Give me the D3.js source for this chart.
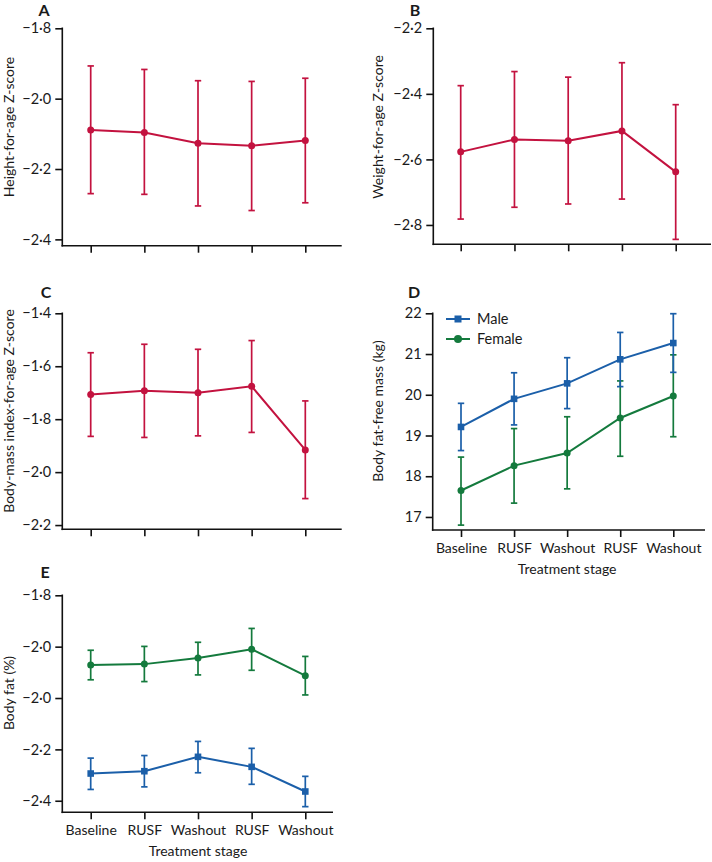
<!DOCTYPE html>
<html>
<head>
<meta charset="utf-8">
<script src="https://cdn.jsdelivr.net/npm/d3@7"></script>
<style>
  html, body { margin: 0; padding: 0; background: #fff; }
  svg { display: block; }
  text { font-family: Lato, "Open Sans", sans-serif; fill: #1a1a1a; }
</style>
</head>
<body>
<svg id="chart" width="712" height="862"></svg>
<script>
// ---------- DATA ----------
const stages = ["Baseline", "RUSF", "Washout", "RUSF", "Washout"];

// Panel A: Height-for-age Z-score
const heightMean = [-2.089, -2.096, -2.127, -2.134, -2.119];
const heightHi   = [-1.907, -1.917, -1.949, -1.951, -1.942];
const heightLo   = [-2.270, -2.272, -2.305, -2.318, -2.296];
const heightTicks = [-1.8, -2.0, -2.2, -2.4];

// Panel B: Weight-for-age Z-score
const weightMean = [-2.577, -2.539, -2.543, -2.513, -2.638];
const weightHi   = [-2.375, -2.332, -2.349, -2.305, -2.433];
const weightLo   = [-2.782, -2.746, -2.736, -2.721, -2.844];
const weightTicks = [-2.2, -2.4, -2.6, -2.8];

// Panel C: Body-mass index-for-age Z-score
const bmiMean = [-1.707, -1.693, -1.700, -1.676, -1.916];
const bmiHi   = [-1.549, -1.517, -1.536, -1.503, -1.731];
const bmiLo   = [-1.865, -1.869, -1.863, -1.850, -2.100];
const bmiTicks = [-1.4, -1.6, -1.8, -2.0, -2.2];

// Panel D: Body fat-free mass (kg)
const ffmMaleMean   = [19.21, 19.90, 20.28, 20.87, 21.27];
const ffmMaleHi     = [19.79, 20.54, 20.91, 21.53, 21.99];
const ffmMaleLo     = [18.63, 19.26, 19.66, 20.20, 20.55];
const ffmFemaleMean = [17.65, 18.26, 18.57, 19.43, 19.97];
const ffmFemaleHi   = [18.47, 19.17, 19.46, 20.34, 20.98];
const ffmFemaleLo   = [16.80, 17.34, 17.69, 18.49, 18.97];
const ffmTicks = [17, 18, 19, 20, 21, 22];

// Panel E: Body fat (%)  (tick labels exactly as printed in the original)
const fatMaleMean   = [-2.294, -2.285, -2.229, -2.268, -2.364];
const fatMaleHi     = [-2.234, -2.224, -2.169, -2.196, -2.305];
const fatMaleLo     = [-2.356, -2.346, -2.291, -2.336, -2.423];
const fatFemaleMean = [-1.871, -1.868, -1.844, -1.810, -1.913];
const fatFemaleHi   = [-1.814, -1.799, -1.783, -1.729, -1.838];
const fatFemaleLo   = [-1.929, -1.936, -1.910, -1.892, -1.988];
const fatTicks      = [-1.6, -1.8, -2.0, -2.2, -2.4];
const fatTickLabels = ["−1·8", "−2·0", "−2·0", "−2·2", "−2·4"];

const seriesNames = ["Male", "Female"];

// ---------- STYLE ----------
const RED = "#c3123f", BLUE = "#1b5fa9", GREEN = "#147a3d";
const svg = d3.select("#chart");

const fmt = v => {
  const s = d3.format(".1f")(Math.abs(v)).replace(".", "·");
  return v < 0 ? "−" + s : s;
};

function series(mean, hi, lo, color, shape) {
  return { mean, hi, lo, color, shape };
}

function drawPanel(p) {
  const g = svg.append("g");
  const x = d3.scalePoint().domain(d3.range(stages.length)).range([p.xFirst, p.xLast]);
  const y = d3.scaleLinear().domain(p.domain).range([p.bottom, p.top]);

  // y axis
  const ya = d3.axisLeft(y).tickValues(p.ticks).tickSize(7).tickPadding(4).tickSizeOuter(0)
    .tickFormat(p.tickFormat || fmt);
  const yg = g.append("g").attr("transform", `translate(${p.left},0)`).call(ya);
  yg.select(".domain").remove();
  yg.selectAll("line").attr("stroke", "#111").attr("stroke-width", 1.6);
  yg.selectAll("text").style("font-size", "14.5px").style("font-family", "Lato, sans-serif").attr("fill", "#1a1a1a");
  g.append("line").attr("x1", p.left).attr("x2", p.left).attr("y1", p.top - 0.8).attr("y2", p.bottom + 0.8)
    .attr("stroke", "#111").attr("stroke-width", 1.6);

  // x axis
  const xa = d3.axisBottom(x).tickSize(7).tickPadding(6).tickSizeOuter(0)
    .tickFormat(i => p.showLabels ? stages[i] : "");
  const xg = g.append("g").attr("transform", `translate(0,${p.bottom})`).call(xa);
  xg.select(".domain").remove();
  xg.selectAll("line").attr("stroke", "#111").attr("stroke-width", 1.6);
  xg.selectAll("text").style("font-size", "14px").style("font-family", "Lato, sans-serif").attr("fill", "#1a1a1a");
  g.append("line").attr("x1", p.left - 0.8).attr("x2", p.right).attr("y1", p.bottom).attr("y2", p.bottom)
    .attr("stroke", "#111").attr("stroke-width", 1.6);

  if (p.showLabels) {
    g.append("text").attr("x", (p.xFirst + p.xLast) / 2).attr("y", p.bottom + 44)
      .attr("text-anchor", "middle").style("font-size", "14px").text("Treatment stage");
  }

  // y title
  g.append("text").attr("transform", `translate(${p.titleX},${p.titleY}) rotate(-90)`)
    .attr("text-anchor", "middle").style("font-size", "14px").text(p.title);

  // panel letter
  g.append("text").attr("x", p.letterX).attr("y", p.letterY).attr("text-anchor", "middle")
    .style("font-size", "16px").style("font-weight", "700").text(p.letter);

  // series
  p.series.forEach(s => {
    const idx = d3.range(s.mean.length);
    const eb = g.append("g").attr("stroke", s.color).attr("stroke-width", 1.7).attr("fill", "none");
    idx.forEach(i => {
      const cx = x(i);
      eb.append("line").attr("x1", cx).attr("x2", cx).attr("y1", y(s.hi[i])).attr("y2", y(s.lo[i]));
      eb.append("line").attr("x1", cx - 3.2).attr("x2", cx + 3.2).attr("y1", y(s.hi[i])).attr("y2", y(s.hi[i]));
      eb.append("line").attr("x1", cx - 3.2).attr("x2", cx + 3.2).attr("y1", y(s.lo[i])).attr("y2", y(s.lo[i]));
    });
    g.append("path").datum(idx)
      .attr("d", d3.line().x(i => x(i)).y(i => y(s.mean[i])))
      .attr("fill", "none").attr("stroke", s.color).attr("stroke-width", 2);
    if (s.shape === "square") {
      g.selectAll(null).data(idx).enter().append("rect")
        .attr("x", i => x(i) - 3.3).attr("y", i => y(s.mean[i]) - 3.3)
        .attr("width", 6.6).attr("height", 6.6).attr("fill", s.color);
    } else {
      g.selectAll(null).data(idx).enter().append("circle")
        .attr("cx", i => x(i)).attr("cy", i => y(s.mean[i])).attr("r", 3.5).attr("fill", s.color);
    }
  });

  // legend
  if (p.legend) {
    p.legend.forEach((l, k) => {
      const ly = p.legendY + k * 20;
      const lg = g.append("g");
      lg.append("line").attr("x1", p.legendX).attr("x2", p.legendX + 24).attr("y1", ly).attr("y2", ly)
        .attr("stroke", l.color).attr("stroke-width", 2);
      if (l.shape === "square") {
        lg.append("rect").attr("x", p.legendX + 12 - 3.5).attr("y", ly - 3.5).attr("width", 7).attr("height", 7).attr("fill", l.color);
      } else {
        lg.append("circle").attr("cx", p.legendX + 12).attr("cy", ly).attr("r", 4).attr("fill", l.color);
      }
      lg.append("text").attr("x", p.legendX + 31).attr("y", ly + 5).style("font-size", "14.5px").text(l.name);
    });
  }
}

drawPanel({
  letter: "A", letterX: 44, letterY: 16,
  title: "Height-for-age Z-score", titleX: 14, titleY: 127,
  left: 62.3, right: 341.7, top: 28.3, bottom: 245.7, xFirst: 90.7, xLast: 305.3,
  domain: [-2.418, -1.8], ticks: heightTicks,
  series: [series(heightMean, heightHi, heightLo, RED, "circle")]
});
drawPanel({
  letter: "B", letterX: 415, letterY: 16,
  title: "Weight-for-age Z-score", titleX: 383, titleY: 127,
  left: 433.3, right: 711, top: 28.3, bottom: 244.3, xFirst: 460.7, xLast: 675.7,
  domain: [-2.859, -2.2], ticks: weightTicks,
  series: [series(weightMean, weightHi, weightLo, RED, "circle")]
});
drawPanel({
  letter: "C", letterX: 46, letterY: 298.3,
  title: "Body-mass index-for-age Z-score", titleX: 14, titleY: 411,
  left: 62.3, right: 341.7, top: 313.3, bottom: 529.3, xFirst: 90.7, xLast: 305.3,
  domain: [-2.216, -1.4], ticks: bmiTicks,
  series: [series(bmiMean, bmiHi, bmiLo, RED, "circle")]
});
drawPanel({
  letter: "D", letterX: 414, letterY: 298.3,
  title: "Body fat-free mass (kg)", titleX: 383, titleY: 411,
  left: 432.7, right: 705, top: 313.3, bottom: 530, xFirst: 461, xLast: 673.3,
  domain: [16.68, 22], ticks: ffmTicks, tickFormat: d3.format("d"), showLabels: true,
  series: [
    series(ffmFemaleMean, ffmFemaleHi, ffmFemaleLo, GREEN, "circle"),
    series(ffmMaleMean, ffmMaleHi, ffmMaleLo, BLUE, "square")
  ],
  legend: [
    { name: seriesNames[0], color: BLUE, shape: "square" },
    { name: seriesNames[1], color: GREEN, shape: "circle" }
  ],
  legendX: 446, legendY: 319
});
drawPanel({
  letter: "E", letterX: 45, letterY: 578,
  title: "Body fat (%)", titleX: 14, titleY: 693,
  left: 62.3, right: 333, top: 595.3, bottom: 812.3, xFirst: 90.7, xLast: 305.3,
  domain: [-2.445, -1.6], ticks: fatTicks, tickFormat: (v) => fatTickLabels[fatTicks.indexOf(v)], showLabels: true,
  series: [
    series(fatFemaleMean, fatFemaleHi, fatFemaleLo, GREEN, "circle"),
    series(fatMaleMean, fatMaleHi, fatMaleLo, BLUE, "square")
  ]
});
</script>
</body>
</html>
